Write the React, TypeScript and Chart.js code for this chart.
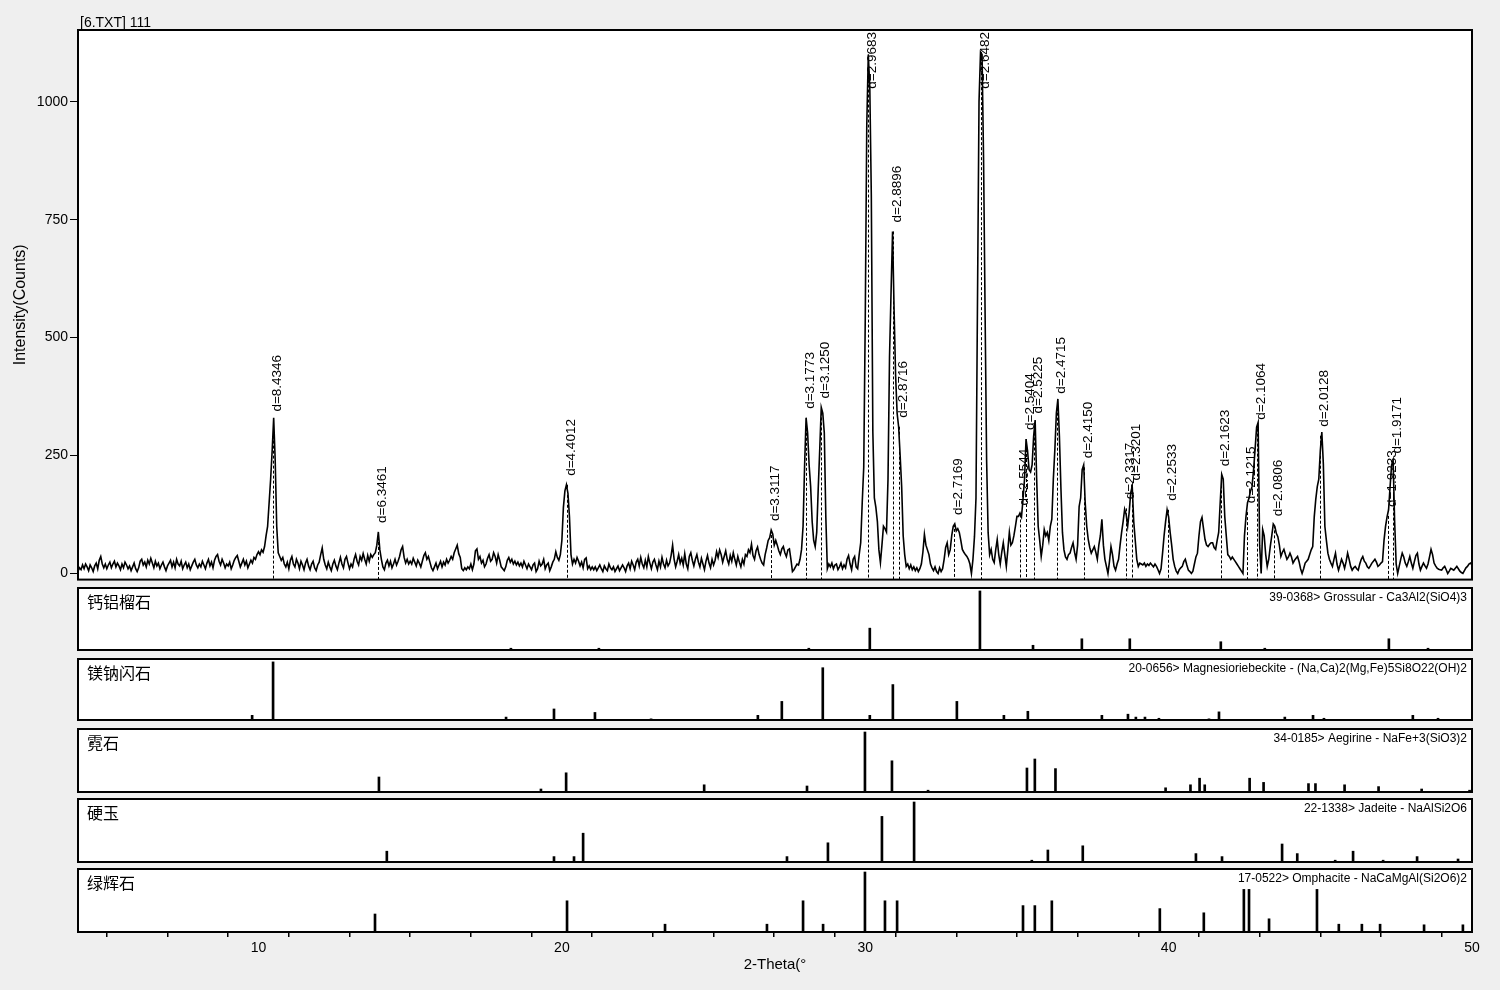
import React, { useEffect, useRef } from 'react';
import { Chart, registerables } from 'chart.js';

Chart.register(...registerables);

const FONT = "'Liberation Sans', Arial, Helvetica, sans-serif";
const CJK = "'Noto Sans CJK SC', 'Noto Sans CJK JP', sans-serif";

// ---------- axes ----------
const X_MIN = 4.05;
const X_MAX = 50;
const Y_MIN = -13;
const Y_MAX = 1152;
const yTicks = [0, 250, 500, 750, 1000];
const xTickValues = [6, 8, 10, 12, 14, 16, 18, 20, 22, 24, 26, 28, 30, 32, 34, 36, 38, 40, 42, 44, 46, 48, 50];
const xLabelValues = [10, 20, 30, 40, 50];

// ---------- measured scan (2-Theta from 4.05 in 0.05 steps) ----------
const scanStart = 4.05;
const scanStep = 0.05;
const counts = [
  5, 12, 8, 18, 10, 20, 14, 6, 18, 12, 4, 16, 22, 10, 28, 36, 20, 12, 20, 10,
  18, 24, 12, 20, 26, 14, 22, 16, 8, 20, 12, 24, 18, 10, 16, 6, 14, 22, 10, 4,
  12, 26, 30, 18, 24, 14, 28, 20, 32, 22, 12, 26, 16, 22, 10, 18, 24, 14, 6, 16,
  22, 28, 14, 24, 12, 30, 20, 16, 26, 10, 18, 24, 12, 20, 8, 16, 24, 30, 18, 12,
  20, 14, 26, 18, 10, 22, 30, 16, 24, 12, 28, 36, 40, 26, 18, 30, 22, 12, 20, 16,
  24, 10, 18, 28, 34, 38, 26, 14, 22, 30, 18, 26, 12, 20, 28, 22, 34, 30, 40, 46,
  40, 50, 45, 57, 80, 100, 150, 200, 260, 330, 240, 100, 44, 36, 28, 34, 20, 14, 24, 10,
  28, 36, 20, 14, 30, 22, 10, 26, 18, 8, 22, 30, 16, 8, 20, 26, 12, 6, 18, 24,
  40, 54, 30, 18, 10, 24, 14, 6, 20, 28, 16, 8, 22, 34, 20, 12, 30, 36, 22, 10,
  20, 14, 30, 40, 26, 18, 36, 28, 42, 30, 20, 38, 26, 40, 34, 40, 44, 60, 88, 50,
  30, 14, 8, 22, 28, 16, 26, 12, 20, 30, 18, 26, 36, 50, 57, 34, 22, 30, 20, 26,
  20, 32, 24, 16, 28, 22, 14, 26, 38, 44, 30, 36, 24, 12, 6, 14, 22, 10, 18, 26,
  14, 24, 18, 30, 22, 28, 36, 30, 44, 52, 60, 42, 34, 10, 6, 12, 8, 14, 10, 20,
  8, 20, 48, 52, 30, 36, 22, 28, 14, 20, 32, 40, 26, 30, 44, 36, 22, 40, 28, 14,
  10, 6, 14, 28, 34, 24, 30, 20, 26, 18, 24, 16, 22, 14, 26, 18, 10, 20, 14, 8,
  18, 22, 4, 10, 26, 16, 20, 30, 10, 18, 22, 6, 14, 24, 30, 46, 34, 28, 40, 70,
  140, 175, 188, 170, 120, 40, 20, 30, 22, 34, 26, 16, 24, 12, 30, 33, 10, 16, 8, 14,
  8, 14, 6, 12, 18, 10, 4, 16, 10, 6, 20, 12, 8, 14, 4, 10, 16, 6, 12, 18,
  12, 4, 16, 22, 10, 26, 18, 8, 24, 30, 16, 34, 20, 12, 28, 14, 36, 22, 10, 24,
  30, 18, 8, 26, 14, 34, 20, 12, 28, 16, 22, 38, 60, 30, 14, 26, 40, 22, 32, 18,
  42, 20, 10, 36, 44, 28, 16, 30, 40, 24, 14, 32, 20, 8, 26, 38, 22, 12, 30, 18,
  28, 46, 34, 50, 40, 24, 36, 48, 30, 20, 38, 26, 44, 30, 18, 36, 24, 14, 30, 20,
  40, 36, 50, 44, 62, 38, 30, 48, 56, 40, 30, 22, 18, 40, 54, 70, 76, 92, 84, 60,
  70, 60, 48, 40, 52, 57, 44, 36, 50, 52, 30, 4, 8, 14, 20, 18, 30, 51, 100, 227,
  330, 298, 230, 184, 110, 70, 57, 87, 180, 263, 352, 340, 298, 120, 10, 20, 14, 22, 10, 18,
  20, 8, 14, 22, 10, 18, 12, 30, 38, 20, 8, 30, 36, 14, 10, 40, 65, 150, 225, 540,
  950, 1100, 1030, 800, 300, 160, 140, 110, 50, 23, 60, 100, 95, 88, 200, 460, 595, 725, 560, 420,
  340, 311, 250, 184, 80, 40, 15, 20, 10, 18, 8, 14, 6, 12, 4, 10, 20, 45, 83, 60,
  50, 40, 20, 12, 6, 14, 4, 0, 12, 4, 10, 30, 55, 65, 40, 50, 80, 100, 105, 90,
  95, 87, 70, 51, 45, 40, 36, 30, 20, 0, 30, 78, 160, 580, 1000, 1105, 1100, 877, 553, 241,
  87, 40, 51, 30, 23, 50, 72, 40, 20, 45, 65, 40, 15, 50, 87, 60, 65, 80, 100, 121,
  121, 128, 120, 157, 200, 285, 260, 220, 215, 230, 290, 325, 200, 100, 70, 36, 60, 93, 80, 87,
  70, 100, 115, 200, 263, 340, 370, 290, 180, 87, 50, 35, 30, 40, 43, 55, 65, 45, 30, 60,
  142, 160, 220, 230, 150, 100, 72, 55, 43, 50, 57, 45, 30, 60, 80, 115, 60, 30, 15, 0,
  25, 57, 40, 15, 7, 20, 30, 60, 87, 110, 136, 125, 100, 130, 171, 185, 110, 70, 30, 15,
  22, 20, 18, 22, 15, 20, 17, 22, 18, 14, 20, 15, 8, 0, 10, 43, 80, 110, 135, 120,
  87, 60, 30, 15, 5, 0, 8, 12, 15, 25, 30, 18, 7, 4, 0, 5, 20, 35, 43, 80,
  110, 119, 95, 72, 60, 57, 62, 65, 65, 55, 51, 70, 87, 150, 210, 200, 121, 80, 40, 36,
  30, 35, 30, 25, 20, 15, 10, 5, 0, 80, 121, 150, 160, 175, 184, 220, 263, 310, 320, 60,
  0, 93, 80, 40, 15, 30, 57, 80, 105, 100, 85, 78, 60, 36, 45, 51, 40, 30, 35, 43,
  35, 22, 28, 32, 36, 25, 10, 0, 10, 22, 26, 30, 40, 50, 57, 120, 157, 184, 200, 260,
  300, 232, 100, 70, 43, 30, 22, 15, 30, 43, 20, 7, 18, 30, 22, 11, 25, 43, 30, 15,
  7, 12, 15, 10, 7, 20, 30, 36, 26, 22, 14, 11, 16, 22, 26, 30, 24, 15, 18, 22,
  25, 70, 100, 120, 135, 184, 230, 240, 110, 20, 0, 15, 30, 43, 35, 22, 15, 25, 36, 22,
  11, 25, 38, 43, 20, 7, 15, 22, 16, 11, 20, 35, 51, 40, 22, 16, 11, 9, 8, 7,
  12, 15, 8, 0, 5, 11, 9, 7, 11, 15, 10, 5, 2, 0, 6, 12, 15, 20, 22, 18,
];

// ---------- labelled peaks ----------
const peakLabels = ['d=8.4346', 'd=6.3461', 'd=4.4012', 'd=3.3117', 'd=3.1773', 'd=3.1250', 'd=2.9683', 'd=2.8896', 'd=2.8716', 'd=2.7169', 'd=2.6482', 'd=2.5544', 'd=2.5404', 'd=2.5225', 'd=2.4715', 'd=2.4150', 'd=2.3317', 'd=2.3201', 'd=2.2533', 'd=2.1623', 'd=2.1215', 'd=2.1064', 'd=2.0806', 'd=2.0128', 'd=1.9233', 'd=1.9171'];
const peakTheta = [10.48, 13.94, 20.16, 26.90, 28.06, 28.54, 30.08, 30.92, 31.12, 32.94, 33.82, 35.10, 35.30, 35.56, 36.32, 37.20, 38.58, 38.78, 39.98, 41.74, 42.58, 42.90, 43.46, 45.00, 47.22, 47.38];
const peakCounts = [324, 88, 188, 92, 330, 352, 1100, 725, 311, 105, 1105, 125, 285, 320, 362, 225, 138, 178, 135, 208, 130, 307, 102, 292, 122, 235];

// ---------- reference patterns ----------
const panelNames = ['钙铝榴石', '镁钠闪石', '霓石', '硬玉', '绿辉石'];
const panelCards = [
  '39-0368> Grossular - Ca3Al2(SiO4)3',
  '20-0656> Magnesioriebeckite - (Na,Ca)2(Mg,Fe)5Si8O22(OH)2',
  '34-0185> Aegirine - NaFe+3(SiO3)2',
  '22-1338> Jadeite - NaAlSi2O6',
  '17-0522> Omphacite - NaCaMgAl(Si2O6)2',
];
const grossularTheta = [18.32, 21.22, 28.14, 30.15, 33.78, 35.53, 37.14, 38.72, 41.72, 43.17, 47.26, 48.55];
const grossularRel = [3, 3, 3, 37, 100, 8, 19, 19, 14, 3, 19, 3];
const riebeckiteTheta = [9.79, 10.48, 18.16, 19.74, 21.09, 22.94, 26.46, 27.25, 28.60, 30.15, 30.91, 33.02, 34.57, 35.36, 37.80, 38.66, 38.92, 39.22, 39.68, 41.33, 41.66, 43.83, 44.76, 45.12, 48.05, 48.88];
const riebeckiteRel = [8, 100, 5, 19, 13, 2, 8, 32, 90, 8, 61, 32, 8, 15, 8, 10, 5, 5, 3, 2, 14, 5, 8, 3, 8, 3];
const aegirineTheta = [13.97, 19.31, 20.14, 24.69, 28.08, 29.99, 30.88, 32.07, 35.33, 35.59, 36.27, 39.90, 40.72, 41.02, 41.19, 42.67, 43.13, 44.61, 44.84, 45.80, 46.92, 48.34, 49.92];
const aegirineRel = [25, 5, 32, 12, 10, 100, 52, 3, 40, 55, 39, 7, 12, 23, 12, 23, 16, 14, 14, 12, 9, 5, 3];
const jadeiteTheta = [14.23, 19.74, 20.40, 20.70, 27.42, 28.77, 30.55, 31.61, 35.49, 36.02, 37.17, 40.90, 41.76, 43.74, 44.24, 45.49, 46.08, 47.07, 48.19, 49.54];
const jadeiteRel = [18, 9, 9, 48, 9, 32, 76, 100, 3, 20, 27, 14, 9, 30, 14, 3, 18, 3, 9, 5];
const omphaciteTheta = [13.84, 20.17, 23.40, 26.76, 27.95, 28.61, 29.99, 30.65, 31.05, 35.20, 35.59, 36.15, 39.71, 41.16, 42.48, 42.65, 43.31, 44.89, 45.61, 46.37, 46.97, 48.42, 49.70];
const omphaciteRel = [30, 52, 13, 13, 52, 13, 100, 52, 52, 44, 44, 52, 39, 32, 71, 71, 22, 71, 13, 13, 13, 12, 12];

const panelTheta = [grossularTheta, riebeckiteTheta, aegirineTheta, jadeiteTheta, omphaciteTheta];
const panelRel = [grossularRel, riebeckiteRel, aegirineRel, jadeiteRel, omphaciteRel];

// ---------- layout (page pixels) ----------
const PLOT_LEFT = 78;
const PLOT_RIGHT_PAD = 28;
const MAIN_HEIGHT = 590;
const panelTops = [588, 659, 729, 799, 869];
const panelBottoms = [650, 720, 792, 862, 932];
const PAGE_H = 990;

const framePlugin = {
  id: 'frame',
  beforeDraw(chart: any) {
    const { ctx, chartArea: a } = chart;
    ctx.save();
    ctx.fillStyle = '#ffffff';
    ctx.fillRect(a.left, a.top, a.right - a.left, a.bottom - a.top);
    ctx.restore();
  },
  afterDraw(chart: any) {
    const { ctx, chartArea: a } = chart;
    ctx.save();
    ctx.strokeStyle = '#000';
    ctx.lineWidth = 2;
    ctx.strokeRect(a.left, a.top, a.right - a.left, a.bottom - a.top);
    ctx.restore();
  },
};

const headerPlugin = {
  id: 'header',
  afterDraw(chart: any) {
    const { ctx, chartArea: a } = chart;
    ctx.save();
    ctx.fillStyle = '#000';
    ctx.font = `14px ${FONT}`;
    ctx.textAlign = 'left';
    ctx.textBaseline = 'alphabetic';
    ctx.fillText('[6.TXT] 111', a.left + 2, a.top - 3);
    ctx.restore();
  },
};

const peakPlugin = {
  id: 'peaks',
  afterDatasetsDraw(chart: any) {
    const { ctx, chartArea: a, scales } = chart;
    ctx.save();
    ctx.strokeStyle = '#000';
    ctx.fillStyle = '#000';
    ctx.lineWidth = 1;
    ctx.font = `13.5px ${FONT}`;
    peakLabels.forEach((label, i) => {
      const x = Math.round(scales.x.getPixelForValue(peakTheta[i])) + 0.5;
      const y = scales.y.getPixelForValue(peakCounts[i]);
      ctx.setLineDash([3, 2]);
      ctx.beginPath();
      ctx.moveTo(x, y);
      ctx.lineTo(x, a.bottom);
      ctx.stroke();
      ctx.setLineDash([]);
      const w = ctx.measureText(label).width;
      let start = y - 9;
      if (start - w < a.top + 2) start = a.top + 2 + w;
      ctx.save();
      ctx.translate(x + 4, start);
      ctx.rotate(-Math.PI / 2);
      ctx.textAlign = 'left';
      ctx.textBaseline = 'middle';
      ctx.fillText(label, 0, 0);
      ctx.restore();
    });
    ctx.restore();
  },
};

function MainChart() {
  const ref = useRef<HTMLCanvasElement | null>(null);
  useEffect(() => {
    const spectrum = counts.map((c, i) => ({ x: scanStart + i * scanStep, y: c }));
    const chart = new Chart(ref.current as HTMLCanvasElement, {
      type: 'line',
      data: {
        datasets: [
          {
            data: spectrum,
            borderColor: '#000',
            borderWidth: 1.6,
            pointRadius: 0,
            tension: 0,
            fill: false,
          },
        ],
      },
      options: {
        animation: false,
        responsive: false,
        events: [],
        layout: { padding: { top: 30, right: PLOT_RIGHT_PAD, bottom: MAIN_HEIGHT - 580, left: 0 } },
        plugins: { legend: { display: false }, tooltip: { enabled: false }, title: { display: false } },
        scales: {
          x: { type: 'linear', min: X_MIN, max: X_MAX, display: false },
          y: {
            type: 'linear',
            min: Y_MIN,
            max: Y_MAX,
            afterBuildTicks: (s: any) => {
              s.ticks = yTicks.map((v) => ({ value: v }));
            },
            afterFit: (s: any) => {
              s.width = PLOT_LEFT;
            },
            ticks: {
              callback: (v: any) => String(v),
              font: { size: 14, family: FONT },
              color: '#000',
              padding: 2,
            },
            grid: { drawOnChartArea: false, drawTicks: true, tickLength: 8, color: '#000', lineWidth: 1 },
            border: { display: false },
            title: {
              display: true,
              text: 'Intensity(Counts)',
              font: { size: 16, family: FONT },
              color: '#000',
              padding: { top: 11, bottom: 0 },
            },
          },
        },
      } as any,
      plugins: [framePlugin, headerPlugin, peakPlugin],
    });
    return () => chart.destroy();
  }, []);
  return (
    <canvas
      ref={ref}
      width={1500}
      height={MAIN_HEIGHT}
      style={{ position: 'absolute', left: 0, top: 0, width: 1500, height: MAIN_HEIGHT }}
    />
  );
}

function Panel({ index }: { index: number }) {
  const ref = useRef<HTMLCanvasElement | null>(null);
  const isLast = index === panelTops.length - 1;
  const top = panelTops[index] - 2;
  const height = isLast ? PAGE_H - top : panelBottoms[index] - panelTops[index] + 4;
  useEffect(() => {
    const name = panelNames[index];
    const card = panelCards[index];
    const textPlugin = {
      id: 'panelText',
      afterDraw(chart: any) {
        const { ctx, chartArea: a } = chart;
        ctx.save();
        ctx.fillStyle = '#000';
        ctx.textBaseline = 'middle';
        ctx.textAlign = 'left';
        ctx.font = `16px ${CJK}`;
        ctx.fillText(name, a.left + 9, a.top + 14);
        ctx.textAlign = 'right';
        ctx.font = `12px ${FONT}`;
        ctx.fillText(card, a.right - 5, a.top + 10);
        ctx.restore();
      },
    };
    const data = panelTheta[index].map((t, i) => ({ x: t, y: panelRel[index][i] }));
    const chart = new Chart(ref.current as HTMLCanvasElement, {
      type: 'bar',
      data: {
        datasets: [
          {
            data,
            backgroundColor: '#000',
            borderWidth: 0,
            barThickness: 2,
            grouped: false,
          },
        ],
      },
      options: {
        animation: false,
        responsive: false,
        events: [],
        layout: { padding: { top: 2, right: PLOT_RIGHT_PAD, bottom: isLast ? 0 : 2, left: PLOT_LEFT } },
        plugins: { legend: { display: false }, tooltip: { enabled: false } },
        scales: {
          x: isLast
            ? {
                type: 'linear',
                min: X_MIN,
                max: X_MAX,
                offset: false,
                afterBuildTicks: (s: any) => {
                  s.ticks = xTickValues.map((v) => ({ value: v }));
                },
                afterFit: (s: any) => {
                  s.height = PAGE_H - panelBottoms[index];
                },
                ticks: {
                  callback: (v: any) => (xLabelValues.includes(Number(v)) ? String(v) : ''),
                  font: { size: 14, family: FONT },
                  color: '#000',
                  padding: 3,
                  maxRotation: 0,
                  autoSkip: false,
                },
                grid: { drawOnChartArea: false, drawTicks: true, tickLength: 5, color: '#000', lineWidth: 1.5 },
                border: { display: false },
                title: {
                  display: true,
                  text: '2-Theta(°',
                  font: { size: 15, family: FONT },
                  color: '#000',
                  padding: { top: 0, bottom: 16 },
                },
              }
            : { type: 'linear', min: X_MIN, max: X_MAX, offset: false, display: false },
          y: { type: 'linear', min: 0, max: 105, display: false },
        },
      } as any,
      plugins: [framePlugin, textPlugin],
    });
    return () => chart.destroy();
  }, [index]);
  return (
    <canvas
      ref={ref}
      width={1500}
      height={height}
      style={{ position: 'absolute', left: 0, top, width: 1500, height }}
    />
  );
}

export default function App() {
  return (
    <div
      style={{
        position: 'fixed',
        left: 0,
        top: 0,
        width: 1500,
        height: PAGE_H,
        background: '#efefef',
        overflow: 'hidden',
      }}
    >
      <MainChart />
      {panelNames.map((_, i) => (
        <Panel key={i} index={i} />
      ))}
    </div>
  );
}
